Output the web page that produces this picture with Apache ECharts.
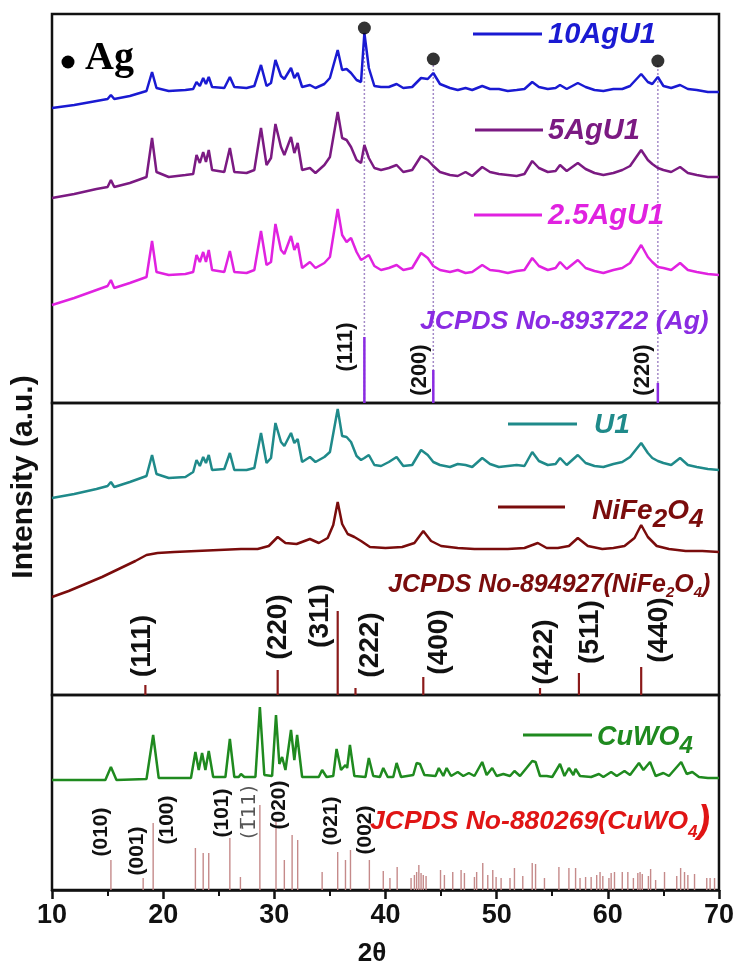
<!DOCTYPE html>
<html><head><meta charset="utf-8">
<script src="https://cdn.jsdelivr.net/npm/echarts@6/dist/echarts.min.js"></script>
<style>html,body{margin:0;padding:0;background:#fff}#c{width:737px;height:970px}</style>
</head><body><div id="c"></div>
<script>
// ---- DATA (2θ in degrees, intensity in arbitrary units per panel) ----
const famAngles = [10,12,14,15.0,15.3,15.6,17,18.5,19.0,19.4,
 20.5,22.0,22.7,23.0,23.3,23.6,23.85,24.1,24.4,25.5,
 26.0,26.4,27.5,28.2,28.8,29.3,29.7,30.1,30.6,30.9,
 31.5,31.8,32.1,32.5,33.2,33.7,34.5,35.0,35.7,36.1,
 36.5,36.9,37.4,37.8,38.1,38.5,39.0,39.6,40.3,41.0,
 41.6,42.4,43.2,43.8,44.3,44.9,45.8,46.5,47.2,47.8,
 48.7,49.4,50.2,51.0,51.8,52.5,53.2,53.8,54.6,55.3,
 55.7,56.3,57.3,58.0,58.8,59.6,60.5,61.3,62.0,63.0,
 63.6,64.0,64.5,65.0,65.7,66.5,67.2,68.0,69.0,70];
const ag10 = [295,298,302,304,308,304,307,312,331,315,
 312,313,314,321,317,325,319,326,316,315,
 326,316,315,317,338,317,320,343,327,324,
 335,325,330,316,318,315,319,325,353,333,
 334,330,323,321,370,335,317,316,316,319,
 315,316,325,324,330,319,315,313,315,313,
 317,314,314,312,313,314,321,316,314,315,
 318,314,320,316,313,312,314,314,317,329,
 321,319,326,317,315,318,314,313,311,311];
const ag5 = [205,209,214,216,223,216,220,226,265,231,
 226,228,229,248,240,251,241,253,233,231,
 255,231,230,233,275,238,245,279,256,248,
 266,250,260,233,235,230,238,246,291,265,
 263,256,243,240,258,245,235,233,235,238,
 231,233,247,243,237,231,228,227,231,227,
 236,231,229,228,227,229,242,235,231,232,
 238,232,240,234,230,228,230,233,237,253,
 243,239,235,233,231,236,230,228,226,226];
const ag25 = [98,105,113,117,123,115,120,126,162,131,
 128,129,131,148,141,151,141,153,133,131,
 152,131,130,133,172,138,141,179,153,149,
 167,153,160,135,141,135,140,146,194,168,
 161,165,151,143,145,148,137,133,135,138,
 133,135,150,145,137,133,131,133,130,131,
 138,133,132,130,132,133,145,137,133,135,
 141,134,143,135,132,130,133,135,140,158,
 146,141,136,135,133,140,133,131,129,128];
const u1 = [197,201,206,209,213,208,213,219,240,221,
 217,218,223,235,229,238,232,240,225,226,
 242,225,225,227,262,232,237,272,253,249,
 262,252,256,233,238,233,238,243,286,259,
 258,253,239,235,237,240,230,229,233,238,
 229,230,245,240,233,230,228,231,230,228,
 237,231,228,229,230,229,243,234,230,231,
 237,230,240,232,229,228,231,233,238,252,
 242,237,234,232,230,237,230,228,226,225];
const nfAngles = [10,11.5,13,14.5,16,17.5,18.5,19.5,21,23,25,27,28.5,29.5,30.3,31.0,32.0,33.2,34.0,34.8,
 35.3,35.7,36.1,36.6,37.2,37.8,38.6,40,41.5,42.6,43.4,44.1,45,46.5,48,49.5,51,52.5,53.7,54.5,
 55.5,56.5,57.3,58.2,59.5,60.5,61.5,62.4,63.0,63.6,64.4,65.5,67,68.5,70];
const nfValues = [98,104,111,118,126,134,140,142,143,144,145,146,146,149,158,152,151,156,152,157,
 170,193,171,161,158,154,148,147,148,152,164,154,149,147,146,146,146,147,152,147,
 147,149,157,149,146,147,149,157,170,158,149,146,144,144,143];
const cwAngles = [10,14.8,15.3,15.8,18.5,19.1,19.6,22.5,22.9,23.2,
 23.5,23.8,24.1,24.5,25.6,26.0,26.4,26.8,27.0,27.3,
 28.3,28.7,29.1,29.8,30.15,30.45,30.7,31.0,31.5,31.8,
 32.05,32.5,34.0,34.3,34.7,35.3,35.6,36.0,36.4,36.55,
 36.8,37.2,38.2,38.5,38.9,39.5,39.8,40.2,40.7,41.0,
 41.4,42.5,42.8,43.1,43.5,44.5,44.8,45.2,45.5,45.9,
 46.5,47.0,47.5,48.0,48.7,49.1,49.6,50.0,50.6,51.2,
 51.6,52.1,53.2,53.5,53.9,54.5,55.0,55.7,56.1,56.5,
 56.9,57.1,57.5,58.5,59.2,59.6,60.3,60.8,61.5,62.0,
 62.8,63.2,63.8,64.3,65.0,65.5,66.6,67.1,67.6,68.2,
 69.0,70];
const cwValues = [110,110,123,110,111,155,112,112,138,120,
 137,120,139,113,113,151,113,113,116,113,
 113,183,115,114,175,126,133,120,160,130,
 155,113,113,120,113,114,141,120,125,122,
 145,114,113,132,114,113,122,113,113,127,
 113,115,127,126,115,114,122,114,122,114,
 118,114,117,114,128,115,122,114,116,114,
 119,114,129,128,114,114,113,126,114,122,
 115,121,114,113,116,113,118,114,119,115,
 127,120,128,114,117,114,128,116,118,113,
 112,112];
// reference sticks
const agSticks = [38.1, 44.3, 64.5];
const agStickH = [66, 33, 20];
const agStickLabels = ['(111)', '(200)', '(220)'];
const agDotLevel = [375, 344, 342];
const agGuideTop = [368, 338, 338];
const nfSticks = [18.4, 30.3, 35.7, 37.3, 43.4, 53.9, 57.4, 63.0];
const nfStickH = [10, 25, 84, 7, 18, 7, 22, 28];
const nfStickLabels = ['(111)','(220)','(311)','(222)','(400)','(422)','(511)','(440)'];
const cwSticks = [15.3,18.2,19.1,22.9,23.6,24.1,26.0,26.95,28.7,30.15,
 30.9,31.6,32.1,34.3,35.7,36.4,36.85,38.55,39.8,40.4,
 41.05,42.3,42.6,42.8,43.0,43.2,43.4,43.65,44.95,45.3,
 46.05,46.8,47.1,48.0,48.2,48.75,49.2,49.65,49.95,50.4,
 51.2,51.6,52.35,53.2,53.5,54.3,55.6,56.5,57.1,57.5,
 58.0,58.5,59.0,59.3,59.55,60.1,60.3,60.6,61.3,61.8,
 62.3,62.7,62.9,63.1,63.65,63.85,64.3,65.1,66.2,66.55,
 66.9,67.2,67.8,68.9,69.2,69.6];
const cwStickH = [30,12,67,42,37,37,52,13,85,68,
 30,55,50,18,38,30,40,30,19,12,
 23,12,15,18,25,17,15,14,20,15,
 18,20,17,13,18,27,15,20,13,12,
 12,22,14,27,26,12,23,22,22,12,
 13,13,15,18,14,12,17,18,18,18,
 12,17,18,16,14,21,10,18,14,22,
 18,15,16,12,12,12];
const cwStickLabels = ['(010)','(001)','(100)','(101)','(1\u030511)','(020)','(021)','(002)'];
const xTicks = [10, 20, 30, 40, 50, 60, 70];

// ---- CHART ----
const F = '"Liberation Sans", Arial, sans-serif';
const chart = echarts.init(document.getElementById('c'), null, {renderer: 'canvas'});
const pairs = (xs, ys) => xs.map((x, i) => [x, ys[i]]);
const C = {ag10:'#1a1ad2', ag5:'#7b1a82', ag25:'#e022e0', u1:'#1f8a8a', nf:'#7a0c0c', cw:'#1f8a1f',
  agRef:'#8a2be2', nfRef:'#8b1a1a', cwRef:'#c58a8a', cwTxt:'#e01515'};

function stick(color, w, dash) {
  return function (params, api) {
    const x = api.value(0), h = api.value(1);
    const a = api.coord([x, 0]), b = api.coord([x, h]);
    const st = {stroke: color, lineWidth: w};
    if (dash) st.lineDash = dash;
    return {type: 'line', shape: {x1: a[0], y1: a[1], x2: b[0], y2: b[1]}, style: st};
  };
}
function lineSeries(name, data, color, gi, z) {
  return {name, type: 'line', xAxisIndex: gi, yAxisIndex: gi, data, symbol: 'none', smooth: false,
    lineStyle: {color, width: 2.5}, z: z || 3, silent: true};
}
const grids = [[14, 389], [403, 292], [695, 195]];
const gridOpt = grids.map(g => ({left: 52, right: 18, top: g[0], height: g[1], show: true,
  borderColor: '#111', borderWidth: 2.5, backgroundColor: 'transparent'}));
const xAxes = grids.map((g, i) => ({type: 'value', gridIndex: i, min: xTicks[0], max: xTicks[xTicks.length-1], interval: 10,
  show: i === 2, axisLine: {show: true, onZero: false, lineStyle: {color: '#111', width: 2.5}},
  axisTick: {show: true, length: 9, lineStyle: {color: '#111', width: 2.5}},
  minorTick: {show: true, splitNumber: 2, length: 6, lineStyle: {color: '#111', width: 2}},
  splitLine: {show: false}, minorSplitLine: {show: false},
  axisLabel: {fontSize: 27, fontWeight: 'bold', fontFamily: F, color: '#111', margin: 12}}));
const yAxes = grids.map((g, i) => ({type: 'value', gridIndex: i, min: 0, max: g[1], show: false}));

const series = [
  lineSeries('10AgU1', pairs(famAngles, ag10), C.ag10, 0),
  lineSeries('5AgU1', pairs(famAngles, ag5), C.ag5, 0),
  lineSeries('2.5AgU1', pairs(famAngles, ag25), C.ag25, 0),
  lineSeries('U1', pairs(famAngles, u1), C.u1, 1),
  lineSeries('NiFe2O4', pairs(nfAngles, nfValues), C.nf, 1),
  lineSeries('CuWO4', pairs(cwAngles, cwValues), C.cw, 2),
  {type: 'custom', xAxisIndex: 0, yAxisIndex: 0, data: pairs(agSticks, agGuideTop), encode: {x: 0, y: 1},
    renderItem: stick('#a48ac8', 1.5, [2, 2]), z: 2, silent: true},
  {type: 'custom', xAxisIndex: 0, yAxisIndex: 0, data: pairs(agSticks, agStickH), encode: {x: 0, y: 1},
    renderItem: stick(C.agRef, 2.5), z: 4, silent: true},
  {type: 'scatter', xAxisIndex: 0, yAxisIndex: 0, data: pairs(agSticks, agDotLevel), symbol: 'circle',
    symbolSize: 13, itemStyle: {color: '#000'}, z: 5, silent: true},
  {type: 'custom', xAxisIndex: 1, yAxisIndex: 1, data: pairs(nfSticks, nfStickH), encode: {x: 0, y: 1},
    renderItem: stick(C.nfRef, 2.2), z: 4, silent: true},
  {type: 'custom', xAxisIndex: 2, yAxisIndex: 2, data: pairs(cwSticks, cwStickH), encode: {x: 0, y: 1},
    renderItem: stick(C.cwRef, 1.4), z: 4, silent: true}
];

function txt(x, y, text, font, fill, extra) {
  return Object.assign({type: 'text', x, y, z: 20, silent: true,
    style: {text, font, fill, align: 'left', verticalAlign: 'middle', textAlign: 'left', textVerticalAlign: 'middle'}}, extra || {});
}
function rot(x, y, text, font, fill) {
  return {type: 'text', x, y, rotation: Math.PI / 2, z: 20, silent: true,
    style: {text, font, fill, align: 'center', verticalAlign: 'middle', textAlign: 'center', textVerticalAlign: 'middle'}};
}
function legLine(x1, x2, y, color) {
  return {type: 'line', z: 20, silent: true, shape: {x1, y1: y, x2, y2: y}, style: {stroke: color, lineWidth: 3}};
}
function richTxt(x, y, text, rich) {
  return {type: 'text', x, y, z: 20, silent: true,
    style: {text, rich, align: 'left', verticalAlign: 'middle', textAlign: 'left', textVerticalAlign: 'middle'}};
}
const BI = s => 'italic bold ' + s + 'px ' + F;
const B = s => 'bold ' + s + 'px ' + F;
function rs(size, color, lh, va) {
  return {fontSize: size, fontWeight: 'bold', fontStyle: 'italic', fontFamily: F, fill: color, color,
    lineHeight: lh, verticalAlign: va};
}

const graphic = [
  // Ag header
  {type: 'circle', z: 20, silent: true, shape: {cx: 68, cy: 62, r: 6.5}, style: {fill: '#000'}},
  txt(85, 59, 'Ag', 'bold 40px "Liberation Serif", serif', '#000'),
  // legends panel 1
  legLine(473, 542, 34, C.ag10), txt(548, 35, '10AgU1', BI(29), C.ag10),
  legLine(475, 543, 130, C.ag5), txt(548, 131, '5AgU1', BI(29), C.ag5),
  legLine(474, 542, 215, C.ag25), txt(548, 216, '2.5AgU1', BI(29), C.ag25),
  txt(420, 322, 'JCPDS No-893722 (Ag)', BI(26.5), C.agRef),
  rot(346, 347, agStickLabels[0], B(22), '#111'),
  rot(420, 370, agStickLabels[1], B(22), '#111'),
  rot(643, 370, agStickLabels[2], B(22), '#111'),
  // legends panel 2
  legLine(508, 577, 424, C.u1), txt(594, 425, 'U1', BI(28), C.u1),
  legLine(498, 565, 507, C.nf),
  richTxt(592, 511, '{a|NiFe}{b|2}{a|O}{b|4}', {a: rs(28, C.nf, 44, 'middle'), b: rs(26, C.nf, 26, 'bottom')}),
  richTxt(388, 585, '{a|JCPDS No-894927(NiFe}{b|2}{a|O}{b|4}{a|)}', {a: rs(25, C.nf, 30, 'middle'), b: rs(15, C.nf, 15, 'bottom')}),
  rot(142, 646, nfStickLabels[0], B(28), '#111'),
  rot(278, 627, nfStickLabels[1], B(28), '#111'),
  rot(320, 616, nfStickLabels[2], B(28), '#111'),
  rot(370, 645, nfStickLabels[3], B(28), '#111'),
  rot(439, 642, nfStickLabels[4], B(28), '#111'),
  rot(544, 652, nfStickLabels[5], B(28), '#111'),
  rot(590, 632, nfStickLabels[6], B(28), '#111'),
  rot(659, 630, nfStickLabels[7], B(28), '#111'),
  // legends panel 3
  legLine(523, 592, 735, C.cw),
  richTxt(597, 738, '{a|CuWO}{b|4}', {a: rs(27, C.cw, 40, 'middle'), b: rs(24, C.cw, 26, 'bottom')}),
  richTxt(370, 822, '{a|JCPDS No-880269(CuWO}{b|4}{c|)}', {a: rs(26.5, C.cwTxt, 38, 'middle'), b: rs(17, C.cwTxt, 17, 'bottom'), c: rs(38, C.cwTxt, 38, 'middle')}),
  rot(101, 832, cwStickLabels[0], B(21), '#111'),
  rot(137, 851, cwStickLabels[1], B(21), '#111'),
  rot(167, 820, cwStickLabels[2], B(21), '#111'),
  rot(222, 813, cwStickLabels[3], B(21), '#111'),
  rot(250, 812, cwStickLabels[4], '20px "DejaVu Sans", sans-serif', '#555'),
  rot(279, 805, cwStickLabels[5], B(21), '#111'),
  rot(331, 821, cwStickLabels[6], B(21), '#111'),
  rot(365, 830, cwStickLabels[7], B(21), '#111'),
  // axis names
  rot(24, 477, 'Intensity (a.u.)', B(30), '#111'),
  {type: 'text', x: 372, y: 954, z: 20, silent: true,
    style: {text: '2\u03b8', font: B(26), fill: '#111', align: 'center', verticalAlign: 'middle', textAlign: 'center', textVerticalAlign: 'middle'}}
];

chart.setOption({
  animation: false,
  backgroundColor: '#fff',
  grid: gridOpt, xAxis: xAxes, yAxis: yAxes, series, graphic
});
</script></body></html>
